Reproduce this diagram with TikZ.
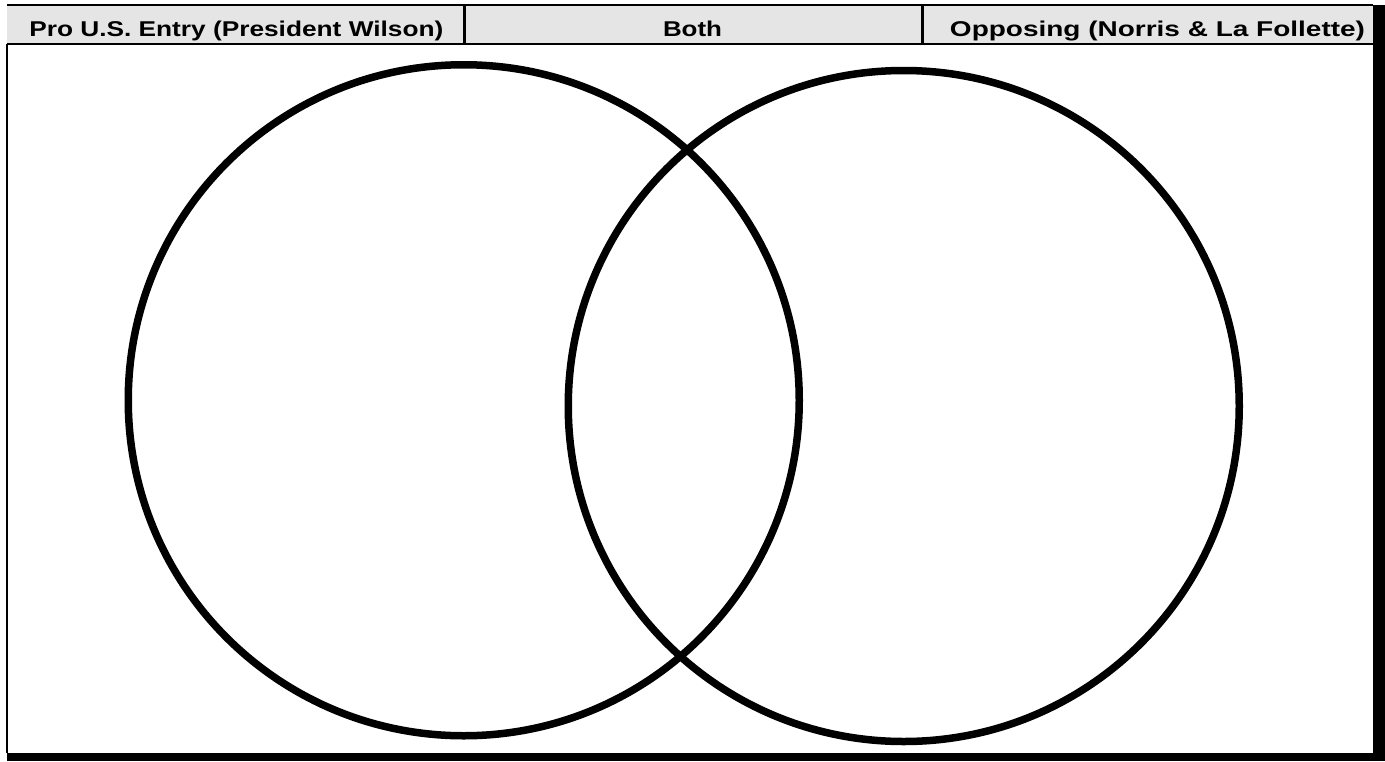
\documentclass[tikz,border=0pt]{standalone}
\usepackage{fontspec}
\usepackage{graphicx}
\setmainfont{Liberation Sans}
\begin{document}
\begin{tikzpicture}[x=1pt,y=-1pt,
  hdrtext/.style={font=\bfseries\fontsize{21.4}{24}\selectfont, inner sep=0pt, anchor=base},
  ring/.style={draw=black, line width=7.5pt},
  thinline/.style={draw=black, line width=2pt},
  shadow/.style={fill=black}]
\useasboundingbox[fill=white] (0,0) rectangle (1385,761);
% header fill
\fill[black!10] (7,5) rectangle (1373,44);
% shadow
\fill[shadow] (1373,5) rectangle (1385,761);
\fill[shadow] (7,753) rectangle (1385,761);
% frame lines
\draw[thinline] (7,5) -- (1373,5);
\draw[thinline] (7,44) -- (1373,44);
\draw[thinline] (7,44) -- (7,753);
\draw[line width=3pt] (464.5,5) -- (464.5,44);
\draw[line width=3pt] (922,5) -- (922,44);
% header texts
\node[hdrtext] (h1) at (236.3,36) {\resizebox{414pt}{\height}{Pro U.S. Entry (President Wilson)}};
\node[hdrtext] (h2) at (692.5,36) {\resizebox{59pt}{\height}{Both}};
\node[hdrtext] (h3) at (1157.5,36) {\resizebox{415pt}{\height}{Opposing (Norris \& La Follette)}};
% circles
\node[ring, circle, minimum size=671pt, inner sep=0pt] (left) at (463.75,400.25) {};
\node[ring, circle, minimum size=671pt, inner sep=0pt] (right) at (903.75,406) {};
\end{tikzpicture}
\end{document}
